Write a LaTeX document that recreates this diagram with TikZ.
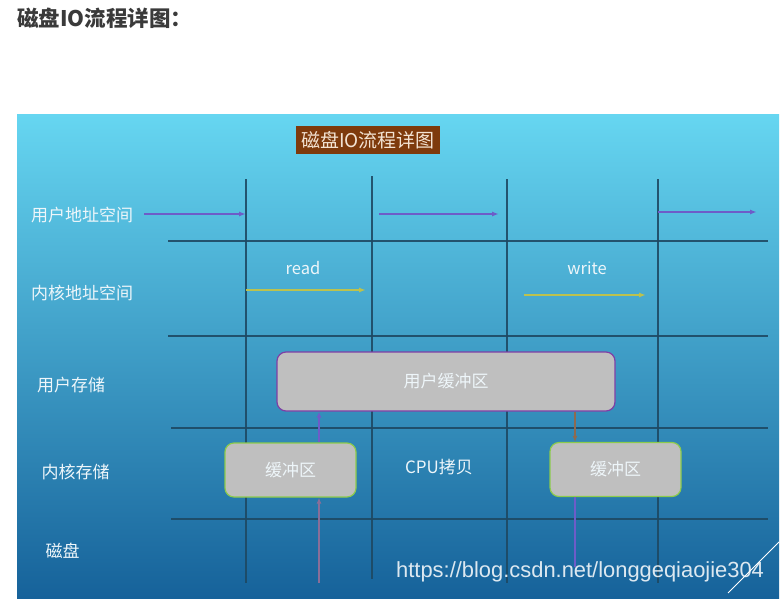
\documentclass[tikz,border=0pt]{standalone}
\usepackage{fontspec}
\setmainfont{Noto Sans CJK SC}
\newfontfamily\urlfont{Liberation Sans}
\usepackage{xcolor}
\usetikzlibrary{arrows.meta,positioning}
\definecolor{panetop}{HTML}{66D6F1}
\definecolor{panebot}{HTML}{16629A}
\definecolor{gridnavy}{HTML}{1E4963}
\definecolor{userpurple}{HTML}{6E5CC8}
\definecolor{kernyellow}{HTML}{BCC24E}
\definecolor{tagbrown}{HTML}{7E3A0C}
\definecolor{tagtext}{HTML}{F3E3D3}
\definecolor{boxgray}{HTML}{BFBFBF}
\definecolor{boxpurple}{HTML}{7E3FA6}
\definecolor{boxgreen}{HTML}{8CCB4C}
\definecolor{labelwhite}{HTML}{EEF6FA}
\definecolor{headgray}{HTML}{3A3A3A}
\definecolor{diskmauve}{HTML}{8A6E98}
\definecolor{copybrown}{HTML}{8E6A50}
\tikzset{
  rowlabel/.style={text=labelwhite,font=\fontsize{17}{20}\selectfont,inner sep=0pt},
  tagbox/.style={fill=tagbrown,text=tagtext,font=\fontsize{19}{22}\selectfont,
    minimum width=144pt,minimum height=28pt,inner sep=0pt},
  bufbox/.style={draw=boxgreen,fill=boxgray,rounded corners=9pt,line width=1.2pt,
    minimum width=131pt,minimum height=54pt,inner sep=0pt,text=labelwhite,
    font=\fontsize{17}{20}\selectfont},
  userbox/.style={bufbox,draw=boxpurple,minimum width=338pt,minimum height=59pt},
  gridline/.style={draw=gridnavy,line width=1.1pt,opacity=0.9},
  userflow/.style={-{Latex[length=7pt,width=5pt]},draw=userpurple,line width=1.4pt},
  kernflow/.style={-{Latex[length=7pt,width=5pt]},draw=kernyellow,line width=1.4pt},
  copyflow/.style={-{Latex[length=6pt,width=5pt]},line width=1.4pt}
}
\begin{document}
\begin{tikzpicture}[x=1pt,y=-1pt]
  \useasboundingbox (0,0) rectangle (783,602);
  \node[anchor=west,inner sep=0pt,text=headgray,font=\bfseries\fontsize{21.5}{25}\selectfont] (heading) at (17,18) {磁盘IO流程详图：};
  \shade[top color=panetop,bottom color=panebot] (17,114) rectangle (779,598);
  \node[tagbox] (tag) at (368,140) {磁盘IO流程详图};
  \foreach \x/\ya/\yb in {246/179/583,372/176/579,507/179/583,658/179/583}
    \draw[gridline] (\x,\ya) -- (\x,\yb);
  \foreach \y/\xa in {241/168,336/168,428/171,519/171}
    \draw[gridline] (\xa,\y) -- (768,\y);
  \node[rowlabel] (useraddr) at (82,215) {用户地址空间};
  \node[rowlabel] (kernaddr) at (82,293) {内核地址空间};
  \node[rowlabel] (userstore) at (71,385) {用户存储};
  \node[rowlabel] (kernstore) at (75.5,472) {内核存储};
  \node[rowlabel] (disk) at (62.5,551) {磁盘};
  \node[rowlabel,font=\fontsize{16.5}{19}\selectfont] (read) at (303,268) {read};
  \node[rowlabel,font=\fontsize{16.5}{19}\selectfont] (write) at (587,268) {write};
  \node[rowlabel] (cpucopy) at (439,467) {CPU拷贝};
  \node[userbox] (ubuf) at (446,381.5) {用户缓冲区};
  \node[bufbox] (lbuf) at (290.5,470) {缓冲区};
  \node[bufbox] (rbuf) at (615.5,469.5) {缓冲区};
  \coordinate (ua1) at (144,214);
  \coordinate (ub1) at (246,214);
  \coordinate (ua2) at (379,214);
  \coordinate (ub2) at (499,214);
  \coordinate (ua3) at (658,212);
  \coordinate (ub3) at (757,212);
  \coordinate (ka1) at (246,290);
  \coordinate (kb1) at (366,290);
  \coordinate (ka2) at (524,295);
  \coordinate (kb2) at (646,295);
  \coordinate (dl) at (319,583);
  \coordinate (dr) at (575,567);
  \draw[userflow] (ua1) -- (ub1);
  \draw[userflow] (ua2) -- (ub2);
  \draw[userflow] (ua3) -- (ub3);
  \draw[kernflow] (ka1) -- (kb1);
  \draw[kernflow] (ka2) -- (kb2);
  \draw[copyflow,draw=diskmauve] (dl) -- (dl |- lbuf.south);
  \draw[copyflow,draw=userpurple] (dl |- lbuf.north) -- (dl |- ubuf.south);
  \draw[copyflow,draw=copybrown] (dr |- ubuf.south) -- (dr |- rbuf.north);
  \draw[line width=1.4pt,draw=userpurple] (dr |- rbuf.south) -- (dr);
  \node[anchor=west,inner sep=0pt,text=white,opacity=0.85,font=\urlfont\fontsize{21.9}{26}\selectfont] (mark) at (396,572) {https://blog.csdn.net/longgeqiaojie304};
  \draw[white,line width=0.8pt] (779,542) -- (728,593);
\end{tikzpicture}
\end{document}
